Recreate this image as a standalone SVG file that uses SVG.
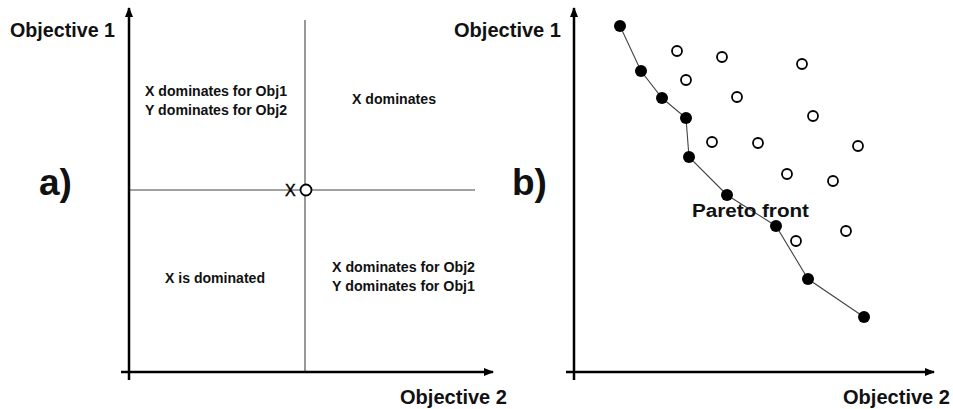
<svg xmlns="http://www.w3.org/2000/svg" width="953" height="409" viewBox="0 0 953 409">
<defs>
<marker id="ah" viewBox="0 0 10 10" refX="9" refY="5" markerWidth="4" markerHeight="4" orient="auto" markerUnits="strokeWidth">
<path d="M0,1 L10,5 L0,9 Z" fill="#000"/>
</marker>
<style>
.axis{stroke:#000;stroke-width:2.5;fill:none}
.thin{stroke:#444;stroke-width:1.1;fill:none}
.lbl{font-family:"Liberation Sans",Arial,sans-serif;font-weight:bold;fill:#111}
.ax{font-size:20px}
.q{font-size:14px}
.big{font-size:37px}
.open{fill:#fff;stroke:#000;stroke-width:1.8}
.fill{fill:#000}
</style>
</defs>
<rect width="953" height="409" fill="#fff"/>
<g id="panel-a">
<line class="thin" x1="305" y1="20" x2="305" y2="372"/>
<line class="thin" x1="130" y1="190" x2="475" y2="190"/>
<line class="axis" x1="129" y1="380" x2="129" y2="8" marker-end="url(#ah)"/>
<line class="axis" x1="121" y1="372" x2="493" y2="372" marker-end="url(#ah)"/>
<circle class="open" cx="306" cy="190" r="5.5"/>
<text x="285" y="196" font-family="Liberation Sans,Arial,sans-serif" font-size="16" fill="#000" stroke="#000" stroke-width="0.4">X</text>
<text class="lbl ax" x="10" y="37" textLength="105" lengthAdjust="spacingAndGlyphs">Objective 1</text>
<text class="lbl ax" x="400" y="404" textLength="107" lengthAdjust="spacingAndGlyphs">Objective 2</text>
<text class="lbl big" x="39" y="195">a)</text>
<text class="lbl q" x="145" y="96" textLength="142" lengthAdjust="spacingAndGlyphs">X dominates for Obj1</text>
<text class="lbl q" x="145" y="115" textLength="142" lengthAdjust="spacingAndGlyphs">Y dominates for Obj2</text>
<text class="lbl q" x="352" y="104" textLength="84" lengthAdjust="spacingAndGlyphs">X dominates</text>
<text class="lbl q" x="165" y="283" textLength="100" lengthAdjust="spacingAndGlyphs">X is dominated</text>
<text class="lbl q" x="332" y="272" textLength="143" lengthAdjust="spacingAndGlyphs">X dominates for Obj2</text>
<text class="lbl q" x="332" y="291" textLength="143" lengthAdjust="spacingAndGlyphs">Y dominates for Obj1</text>
</g>
<g id="panel-b">
<line class="axis" x1="574" y1="380" x2="574" y2="8" marker-end="url(#ah)"/>
<line class="axis" x1="566" y1="372" x2="934" y2="372" marker-end="url(#ah)"/>
<g id="connectors">
<polyline class="thin" points="620,26 641,71 662,98 686,118 689,157 727,195 776,226 808,279 864,317"/>
</g>
<g id="pareto-points">
<circle class="fill" cx="620" cy="26" r="6"/>
<circle class="fill" cx="641" cy="71" r="6"/>
<circle class="fill" cx="662" cy="98" r="6"/>
<circle class="fill" cx="686" cy="118" r="6"/>
<circle class="fill" cx="689" cy="157" r="6"/>
<circle class="fill" cx="727" cy="195" r="6"/>
<circle class="fill" cx="776" cy="226" r="6"/>
<circle class="fill" cx="808" cy="279" r="6"/>
<circle class="fill" cx="864" cy="317" r="6"/>
</g>
<g id="dominated-points">
<circle class="open" cx="677" cy="51" r="5"/>
<circle class="open" cx="722" cy="57" r="5"/>
<circle class="open" cx="802" cy="64" r="5"/>
<circle class="open" cx="686" cy="80" r="5"/>
<circle class="open" cx="737" cy="97" r="5"/>
<circle class="open" cx="813" cy="116" r="5"/>
<circle class="open" cx="712" cy="142" r="5"/>
<circle class="open" cx="758" cy="143" r="5"/>
<circle class="open" cx="858" cy="146" r="5"/>
<circle class="open" cx="787" cy="174" r="5"/>
<circle class="open" cx="833" cy="181" r="5"/>
<circle class="open" cx="796" cy="241" r="5"/>
<circle class="open" cx="846" cy="231" r="5"/>
</g>
<text class="lbl ax" x="454" y="37" textLength="107" lengthAdjust="spacingAndGlyphs">Objective 1</text>
<text class="lbl ax" x="843" y="404" textLength="107" lengthAdjust="spacingAndGlyphs">Objective 2</text>
<text class="lbl big" x="512" y="195">b)</text>
<text class="lbl" x="692" y="217" font-size="18" textLength="117" lengthAdjust="spacingAndGlyphs">Pareto front</text>
</g>
</svg>
